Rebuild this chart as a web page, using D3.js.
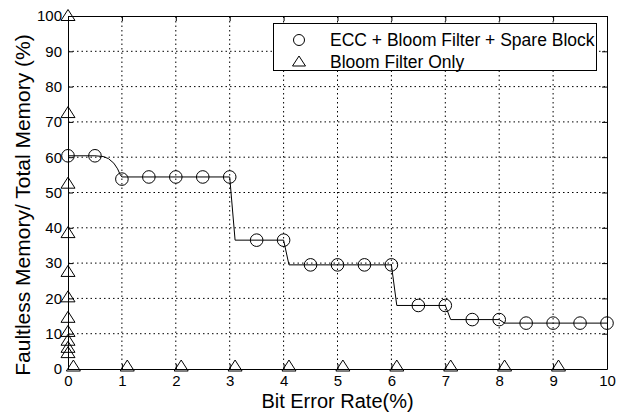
<!DOCTYPE html>
<html>
<head>
<meta charset="utf-8">
<script src="https://cdn.jsdelivr.net/npm/d3@7"></script>
<style>
body { margin: 0; background: #fff; }
svg { display: block; font-family: "Liberation Sans", Arial, sans-serif; }
</style>
</head>
<body>
<div id="chart"></div>
<script>
// ECC + Bloom Filter + Spare Block (circles)
var eccX = [0, 0.5, 1, 1.5, 2, 2.5, 3, 3.5, 4, 4.5, 5, 5.5, 6, 6.5, 7, 7.5, 8, 8.5, 9, 9.5, 10];
var eccY = [60.4, 60.4, 53.8, 54.4, 54.4, 54.4, 54.4, 36.5, 36.5, 29.5, 29.5, 29.5, 29.5, 18, 18, 14, 14, 13, 13, 13, 13];

// the fitted line drawn through the circles
var lineX = [0, 0.5, 0.65, 0.75, 0.85, 0.92, 0.97, 1.0, 3.0, 3.1, 4.0, 4.1, 6.0, 6.1, 7.0, 7.1, 8.0, 8.1, 10];
var lineY = [60.4, 60.4, 60.2, 59.6, 58.3, 56.7, 55.0, 54.4, 54.4, 36.5, 36.5, 29.5, 29.5, 18, 18, 14, 14, 13, 13];

// Bloom Filter Only (triangles)
var bloomX = [0, 0, 0, 0, 0, 0, 0, 0, 0, 0, 0, 0.1, 1.1, 2.1, 3.1, 4.1, 5.1, 6.1, 7.1, 8.1, 9.1];
var bloomY = [100, 72.5, 52.5, 38.5, 27.5, 20.3, 14.5, 10.5, 8, 6, 4.5, 0.7, 0.7, 0.7, 0.7, 0.7, 0.7, 0.7, 0.7, 0.7, 0.7];

var xTicks = [0, 1, 2, 3, 4, 5, 6, 7, 8, 9, 10];
var yTicks = [0, 10, 20, 30, 40, 50, 60, 70, 80, 90, 100];
var seriesNames = ["ECC + Bloom Filter + Spare Block", "Bloom Filter Only"];

var width = 618, height = 412;
var margin = {left: 68, right: 11, top: 16, bottom: 43};

var svg = d3.select("#chart").append("svg")
    .attr("width", width)
    .attr("height", height);

var x = d3.scaleLinear().domain([0, 10]).range([margin.left, width - margin.right]);
var y = d3.scaleLinear().domain([0, 100]).range([height - margin.bottom, margin.top]);

// grid
svg.append("g").selectAll("line")
    .data(xTicks.filter(d => d > 0 && d < 10))
    .enter().append("line")
    .attr("x1", d => x(d)).attr("x2", d => x(d))
    .attr("y1", y(0)).attr("y2", y(100))
    .attr("stroke", "#000").attr("stroke-width", 1)
    .attr("stroke-dasharray", "1.5,3");
svg.append("g").selectAll("line")
    .data(yTicks.filter(d => d > 0 && d < 100))
    .enter().append("line")
    .attr("x1", x(0)).attr("x2", x(10))
    .attr("y1", d => y(d)).attr("y2", d => y(d))
    .attr("stroke", "#000").attr("stroke-width", 1)
    .attr("stroke-dasharray", "1.5,3");

// axes (ticks inward, box on)
var axBottom = svg.append("g")
    .attr("transform", "translate(0," + y(0) + ")")
    .call(d3.axisBottom(x).tickValues(xTicks).tickSizeInner(-5).tickSizeOuter(0).tickPadding(6));
var axLeft = svg.append("g")
    .attr("transform", "translate(" + x(0) + ",0)")
    .call(d3.axisLeft(y).tickValues(yTicks).tickSizeInner(-5).tickSizeOuter(0).tickPadding(6));
var axTop = svg.append("g")
    .attr("transform", "translate(0," + y(100) + ")")
    .call(d3.axisTop(x).tickValues(xTicks).tickSizeInner(-5).tickSizeOuter(0).tickFormat(""));
var axRight = svg.append("g")
    .attr("transform", "translate(" + x(10) + ",0)")
    .call(d3.axisRight(y).tickValues(yTicks).tickSizeInner(-5).tickSizeOuter(0).tickFormat(""));

[axBottom, axLeft, axTop, axRight].forEach(function(g) {
    g.selectAll("path, line").attr("stroke", "#000").attr("stroke-width", 1);
    g.selectAll("text").attr("fill", "#000")
        .style("font-family", "'Liberation Sans', Arial, sans-serif")
        .style("font-size", "15px");
});

// line
var lineData = lineX.map((d, i) => [d, lineY[i]]);
svg.append("path")
    .datum(lineData)
    .attr("fill", "none")
    .attr("stroke", "#000")
    .attr("stroke-width", 1)
    .attr("d", d3.line().x(d => x(d[0])).y(d => y(d[1])));

// circles
svg.append("g").selectAll("circle")
    .data(eccX)
    .enter().append("circle")
    .attr("cx", d => x(d))
    .attr("cy", (d, i) => y(eccY[i]))
    .attr("r", 6.3)
    .attr("fill", "none")
    .attr("stroke", "#000")
    .attr("stroke-width", 1);

// triangles
var tri = "M0,-6.5L7,4.5L-7,4.5Z";
svg.append("g").selectAll("path")
    .data(bloomX)
    .enter().append("path")
    .attr("d", tri)
    .attr("transform", (d, i) => "translate(" + x(d) + "," + y(bloomY[i]) + ")")
    .attr("fill", "none")
    .attr("stroke", "#000")
    .attr("stroke-width", 1);

// legend
var legend = svg.append("g");
legend.append("rect")
    .attr("x", 273.5).attr("y", 23.5)
    .attr("width", 323).attr("height", 47)
    .attr("fill", "#fff").attr("stroke", "#000").attr("stroke-width", 1);
legend.append("circle")
    .attr("cx", 299).attr("cy", 40).attr("r", 5.5)
    .attr("fill", "none").attr("stroke", "#000");
legend.append("path")
    .attr("d", "M0,-6L6.5,4L-6.5,4Z")
    .attr("transform", "translate(299,62)")
    .attr("fill", "none").attr("stroke", "#000");
legend.selectAll("text")
    .data(seriesNames)
    .enter().append("text")
    .attr("x", 330)
    .attr("y", (d, i) => 46 + i * 22)
    .style("font-size", "17.5px")
    .text(d => d);

// axis labels
svg.append("text")
    .attr("x", (x(0) + x(10)) / 2)
    .attr("y", 408)
    .attr("text-anchor", "middle")
    .style("font-size", "20px")
    .text("Bit Error Rate(%)");
svg.append("text")
    .attr("transform", "translate(30,205) rotate(-90)")
    .attr("text-anchor", "middle")
    .style("font-size", "21px")
    .text("Faultless Memory/ Total Memory (%)");
</script>
</body>
</html>
